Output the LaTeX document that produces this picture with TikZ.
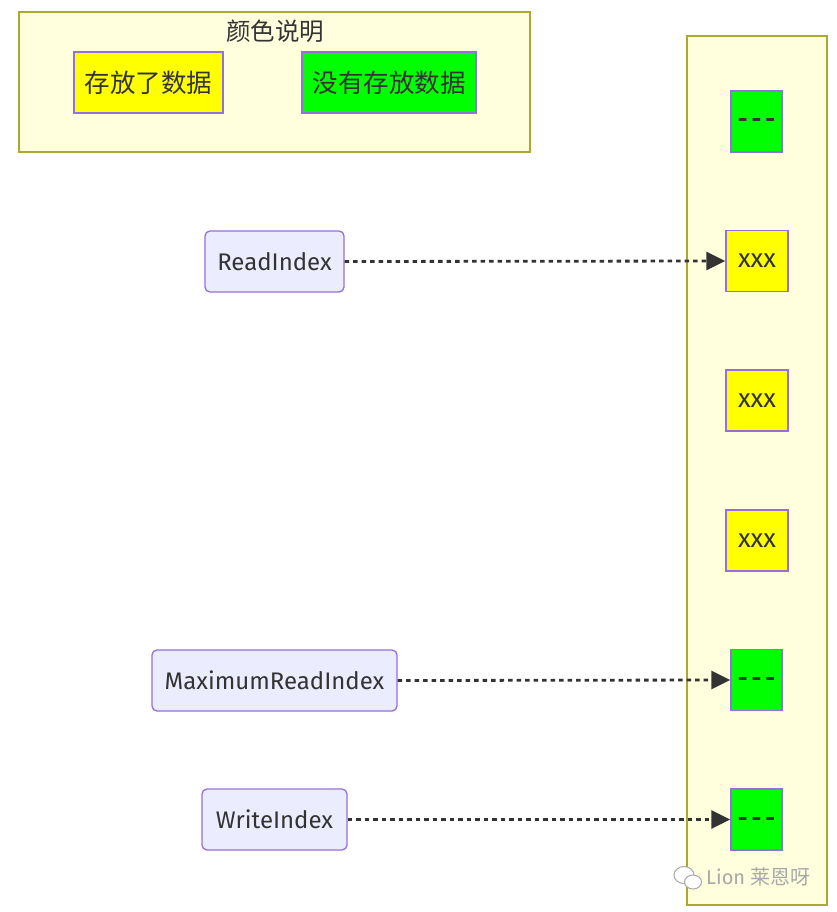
\documentclass[tikz,border=0pt]{standalone}
\usepackage{fontspec}
\setmainfont{Fira Sans}
\newfontfamily\cjk{Noto Sans CJK SC}
\usetikzlibrary{arrows.meta}
\definecolor{clusterbg}{HTML}{FFFFDE}
\definecolor{clusterbd}{HTML}{AAAA33}
\definecolor{nodebg}{HTML}{ECECFF}
\definecolor{nodebd}{HTML}{9370DB}
\definecolor{txt}{HTML}{333333}
\definecolor{yel}{HTML}{FFFF00}
\definecolor{grn}{HTML}{00FF00}
\definecolor{wm}{HTML}{A8A8A8}
\tikzset{
  cluster/.style={draw=clusterbd, fill=clusterbg, line width=1.5pt},
  idxnode/.style={draw=nodebd, fill=nodebg, line width=1.3pt, rounded corners=5pt,
    minimum height=61pt, inner sep=0pt, text=txt, font=\fontsize{24}{27}\selectfont},
  full/.style={draw=nodebd, fill=yel, line width=1.3pt, minimum width=62pt, minimum height=61pt,
    inner sep=0pt, text=txt, font=\fontsize{26}{29}\selectfont},
  empty/.style={draw=nodebd, fill=grn, line width=1.3pt, minimum width=51pt, minimum height=61pt,
    inner sep=0pt, text height=0pt, text depth=0pt, text=txt, font=\fontsize{24}{27}\selectfont},
  legbox/.style={draw=nodebd, line width=1.3pt, minimum height=61pt, inner sep=0pt,
    text=txt, font=\cjk\fontsize{25.5}{28}\selectfont},
  ptr/.style={draw=txt, line width=2.8pt, dash pattern=on 4.5pt off 4pt,
    -{Triangle[length=19pt,width=18pt,sep=0pt]}},
}
\newcommand{\nodash}{\raisebox{-6.5pt}{\textbf{-\,-\,-}}}
\begin{document}
\begin{tikzpicture}[x=1pt,y=-1pt]
\useasboundingbox (0,0) rectangle (837,912);
% legend cluster
\node[cluster, minimum width=511pt, minimum height=140pt, inner sep=0pt] (legend) at (274.5,82) {};
\node[text=txt, font=\cjk\fontsize{24.5}{27}\selectfont] (legtitle) at (275,31) {颜色说明};
\node[legbox, fill=yel, minimum width=149pt] (legfull) at (148.5,82.5) {存放了数据};
\node[legbox, fill=grn, minimum width=174pt] (legempty) at (389,82.5) {没有存放数据};
% buffer column
\node[cluster, minimum width=140pt, minimum height=869pt, inner sep=0pt] (buffer) at (757,470.5) {};
\node[empty] (b1) at (756.5,121.5) {\nodash};
\node[full] (b2) at (757,261) {xxx};
\node[full] (b3) at (757,400.5) {xxx};
\node[full] (b4) at (757,540.5) {xxx};
\node[empty] (b5) at (756.5,680) {\nodash};
\node[empty] (b6) at (756.5,819.5) {\nodash};
% index nodes
\node[idxnode, minimum width=139pt] (ri) at (274.5,261.5) {ReadIndex};
\node[idxnode, minimum width=245pt] (mri) at (274.5,680.5) {MaximumReadIndex};
\node[idxnode, minimum width=145pt] (wi) at (274.5,819.5) {WriteIndex};
% pointers
\draw[ptr] (ri.east) -- (b2.west);
\draw[ptr] (mri.east) -- (b5.west);
\draw[ptr] (wi.east) -- (b6.west);
% watermark
\draw[wm, line width=1pt, fill=white] (684,875) ellipse (10pt and 8.5pt);
\draw[wm, line width=1pt, fill=white] (693,882) ellipse (8.5pt and 7pt);
\node[text=wm, anchor=west, font=\fontsize{20}{22}\selectfont, inner sep=0pt] (wmtext) at (706,877) {Lion {\cjk 莱恩呀}};
\end{tikzpicture}
\end{document}
